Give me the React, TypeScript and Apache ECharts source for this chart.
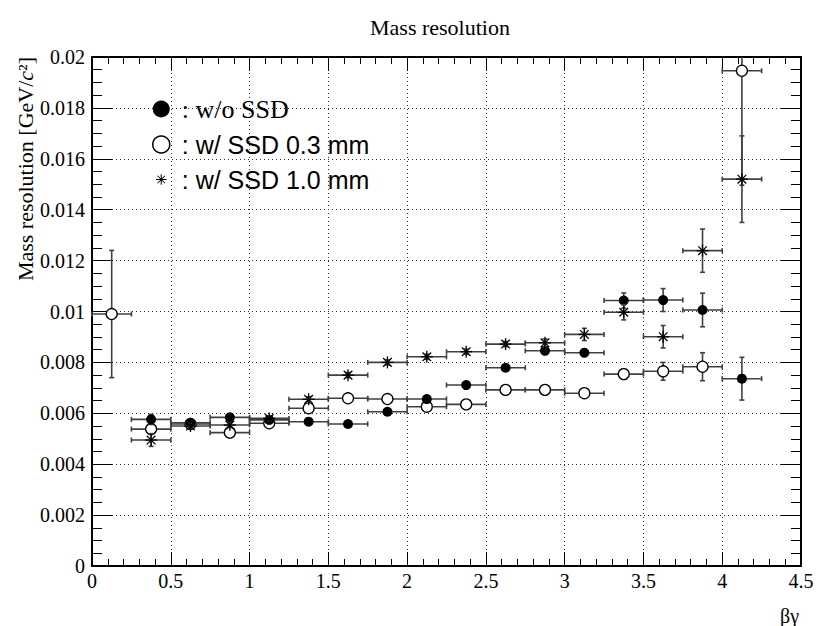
import React, { useEffect, useRef } from "react";
import * as echarts from "echarts";

const FONT = "'Liberation Serif', 'Times New Roman', Times, serif";
const SANS = "'Liberation Sans', Arial, Helvetica, sans-serif";

// bin centres (beta*gamma) and half bin width
const betaGamma = [0.125, 0.375, 0.625, 0.875, 1.125, 1.375, 1.625, 1.875, 2.125, 2.375, 2.625, 2.875, 3.125, 3.375, 3.625, 3.875, 4.125];
const binHalfWidth = 0.125;

// w/o SSD (filled circles)
const noSsd = [null, 0.00576, 0.00563, 0.00584, 0.00574, 0.00567, 0.00558, 0.00606, 0.00656, 0.00711, 0.00779, 0.00846, 0.00838, 0.01043, 0.01045, 0.01006, 0.00736];
const noSsdErr = [null, 0.0002, 0.0001, 0.0001, 0.0001, 0.0001, 0.0001, 0.0001, 0.0001, 0.0001, 0.0001, 0.00015, 0.00015, 0.0003, 0.00045, 0.00066, 0.00084];

// w/ SSD 0.3 mm (open circles)
const ssd03 = [0.0099, 0.00538, 0.00558, 0.00524, 0.00561, 0.0062, 0.00659, 0.00656, 0.00626, 0.00635, 0.00692, 0.00692, 0.00679, 0.00754, 0.00765, 0.00783, 0.01946];
const ssd03Err = [0.0025, 0.0001, 0.0001, 0.0001, 0.0001, 0.0001, 0.0001, 0.0001, 0.0001, 0.0001, 0.0001, 0.00015, 0.00015, 0.0002, 0.00035, 0.00055, 0.0045];

// w/ SSD 1.0 mm (asterisks)
const ssd10 = [null, 0.00495, 0.0055, 0.00554, 0.0058, 0.00655, 0.0075, 0.008, 0.00822, 0.00842, 0.00872, 0.00877, 0.0091, 0.00997, 0.00901, 0.01239, 0.0152];
const ssd10Err = [null, 0.00025, 0.0001, 0.0001, 0.0001, 0.0001, 0.0001, 0.0001, 0.0001, 0.0001, 0.0001, 0.00015, 0.00024, 0.0003, 0.00044, 0.00085, 0.0017];

const seriesNames = ["w/o SSD", "w/ SSD 0.3 mm", "w/ SSD 1.0 mm"];

const STAR_PATH =
  "path://M-0.06,-0.62L0.06,-0.62L0.06,0.62L-0.06,0.62Z" +
  "M-0.62,-0.06L0.62,-0.06L0.62,0.06L-0.62,0.06Z" +
  "M-0.40,-0.48L0.48,0.40L0.40,0.48L-0.48,-0.40Z" +
  "M-0.48,0.40L0.40,-0.48L0.48,-0.40L-0.40,0.48Z" +
  "M-1,-1L-0.999,-1L-1,-1Z M1,1L0.999,1L1,1Z";

function buildData(values: (number | null)[], errs: (number | null)[]) {
  const out: number[][] = [];
  values.forEach((v, i) => {
    if (v == null) return;
    out.push([betaGamma[i], v, binHalfWidth, errs[i] as number]);
  });
  return out;
}

function errorBarRenderer(marker: "filled" | "open" | "star") {
  return (params: any, api: any) => {
    const x = api.value(0);
    const y = api.value(1);
    const ex = api.value(2);
    const ey = api.value(3);
    const cs = params.coordSys;
    const top0 = cs.y;
    const bot0 = cs.y + cs.height;
    const left0 = cs.x;
    const c = api.coord([x, y]);
    const cx = c[0];
    const cy = c[1];
    let xl = api.coord([x - ex, y])[0];
    const xr = api.coord([x + ex, y])[0];
    let yt = api.coord([x, y + ey])[1];
    let yb = api.coord([x, y - ey])[1];
    const tClip = yt < top0;
    if (tClip) yt = top0;
    if (yb > bot0) yb = bot0;
    if (xl < left0) xl = left0;
    const es = { stroke: "#404040", lineWidth: 1.6 };
    const cap = 2.5;
    const children: any[] = [];
    const line = (x1: number, y1: number, x2: number, y2: number) =>
      children.push({ type: "line", shape: { x1, y1, x2, y2 }, style: es });
    line(xl, cy, xr, cy);
    line(xl, cy - cap, xl, cy + cap);
    line(xr, cy - cap, xr, cy + cap);
    line(cx, yt, cx, yb);
    if (!tClip) line(cx - cap, yt, cx + cap, yt);
    line(cx - cap, yb, cx + cap, yb);
    if (marker === "filled") {
      children.push({ type: "circle", shape: { cx, cy, r: 5 }, style: { fill: "#000" } });
    } else if (marker === "open") {
      children.push({ type: "circle", shape: { cx, cy, r: 5.5 }, style: { fill: "#fff", stroke: "#000", lineWidth: 1.3 } });
    } else {
      const r = 6;
      const d = r * 0.72;
      const ss = { stroke: "#000", lineWidth: 1.3 };
      children.push({ type: "line", shape: { x1: cx - r, y1: cy, x2: cx + r, y2: cy }, style: ss });
      children.push({ type: "line", shape: { x1: cx, y1: cy - r, x2: cx, y2: cy + r }, style: ss });
      children.push({ type: "line", shape: { x1: cx - d, y1: cy - d, x2: cx + d, y2: cy + d }, style: ss });
      children.push({ type: "line", shape: { x1: cx - d, y1: cy + d, x2: cx + d, y2: cy - d }, style: ss });
    }
    return { type: "group", children };
  };
}

export default function App() {
  const ref = useRef<HTMLDivElement>(null);
  useEffect(() => {
    if (!ref.current) return;
    const chart = echarts.init(ref.current, undefined, { renderer: "svg" });
    const labelStyle = { fontSize: 20, fontFamily: FONT, color: "#000" };
    const axisLine = { show: true, onZero: false, lineStyle: { color: "#000", width: 2 } };
    const gridLine = { show: true, lineStyle: { color: "#333", width: 1, type: [1, 3] as any } };
    const xBase = {
      type: "value" as const,
      min: 0,
      max: 4.5,
      interval: 0.5,
      axisLine,
      axisTick: { show: true, inside: true, length: 14, lineStyle: { color: "#000", width: 1 } },
      minorTick: { show: true, splitNumber: 5, length: 7, lineStyle: { color: "#000", width: 1 } },
    };
    const yBase = {
      type: "value" as const,
      min: 0,
      max: 0.02,
      interval: 0.002,
      axisLine,
      axisTick: { show: true, inside: true, length: 20, lineStyle: { color: "#000", width: 1 } },
      minorTick: { show: true, splitNumber: 4, length: 10, lineStyle: { color: "#000", width: 1 } },
    };
    const option: any = {
      animation: false,
      backgroundColor: "#fff",
      title: {
        text: "Mass resolution",
        left: 365,
        top: 11,
        textStyle: { fontSize: 22, fontWeight: "normal", fontFamily: FONT, color: "#000" },
      },
      legend: {
        orient: "vertical",
        left: 147,
        top: 91,
        itemGap: 10,
        itemWidth: 17,
        itemHeight: 17,
        selectedMode: false,
        formatter: (n: string) => (n === seriesNames[0] ? "{a|: " + n + "}" : "{b|: " + n + "}"),
        textStyle: {
          fontSize: 26,
          fontFamily: FONT,
          color: "#000",
          padding: [0, 0, 0, 7],
          rich: {
            a: { fontSize: 26, fontFamily: FONT, color: "#000" },
            b: { fontSize: 25, fontFamily: SANS, color: "#000" },
          },
        },
        data: [
          { name: seriesNames[0], icon: "circle", itemStyle: { color: "#000", borderWidth: 0 } },
          { name: seriesNames[1], icon: "circle", itemStyle: { color: "#fff", borderColor: "#000", borderWidth: 1.5 } },
          { name: seriesNames[2], icon: STAR_PATH, itemStyle: { color: "#000", borderWidth: 0 } },
        ],
      },
      grid: { left: 92, top: 57, right: 16, bottom: 60, containLabel: false },
      xAxis: [
        {
          ...xBase,
          position: "bottom",
          name: "βγ",
          nameLocation: "end",
          nameGap: 0,
          nameTextStyle: { fontSize: 20, fontFamily: FONT, color: "#000", align: "right", verticalAlign: "top", padding: [40, 2, 0, 0] },
          axisLabel: { ...labelStyle, margin: 5 },
          splitLine: gridLine,
        },
        {
          ...xBase,
          position: "top",
          axisLabel: { show: false },
          splitLine: { show: false },
        },
      ],
      yAxis: [
        {
          ...yBase,
          position: "left",
          name: "Mass resolution [GeV/{i|c}²]",
          nameLocation: "end",
          nameRotate: 90,
          nameGap: 0,
          nameTextStyle: {
            fontSize: 22,
            fontFamily: FONT,
            color: "#000",
            align: "right",
            verticalAlign: "bottom",
            padding: [0, 0, 56, 0],
            rich: { i: { fontSize: 22, fontFamily: FONT, fontStyle: "italic", color: "#000" } },
          },
          axisLabel: { ...labelStyle, margin: 7 },
          splitLine: gridLine,
        },
        {
          ...yBase,
          position: "right",
          axisLabel: { show: false },
          splitLine: { show: false },
        },
      ],
      series: [
        {
          type: "custom",
          name: seriesNames[1],
          xAxisIndex: 0,
          yAxisIndex: 0,
          dimensions: ["x", "y", "ex", "ey"],
          encode: { x: 0, y: 1 },
          renderItem: errorBarRenderer("open"),
          data: buildData(ssd03, ssd03Err),
          z: 3,
        },
        {
          type: "custom",
          name: seriesNames[0],
          xAxisIndex: 0,
          yAxisIndex: 0,
          dimensions: ["x", "y", "ex", "ey"],
          encode: { x: 0, y: 1 },
          renderItem: errorBarRenderer("filled"),
          data: buildData(noSsd, noSsdErr),
          z: 4,
        },
        {
          type: "custom",
          name: seriesNames[2],
          xAxisIndex: 0,
          yAxisIndex: 0,
          dimensions: ["x", "y", "ex", "ey"],
          encode: { x: 0, y: 1 },
          renderItem: errorBarRenderer("star"),
          data: buildData(ssd10, ssd10Err),
          z: 5,
        },
      ],
    };
    chart.setOption(option);
    return () => chart.dispose();
  }, []);
  return <div ref={ref} style={{ position: "absolute", left: 0, top: 0, width: 817, height: 626 }} />;
}
